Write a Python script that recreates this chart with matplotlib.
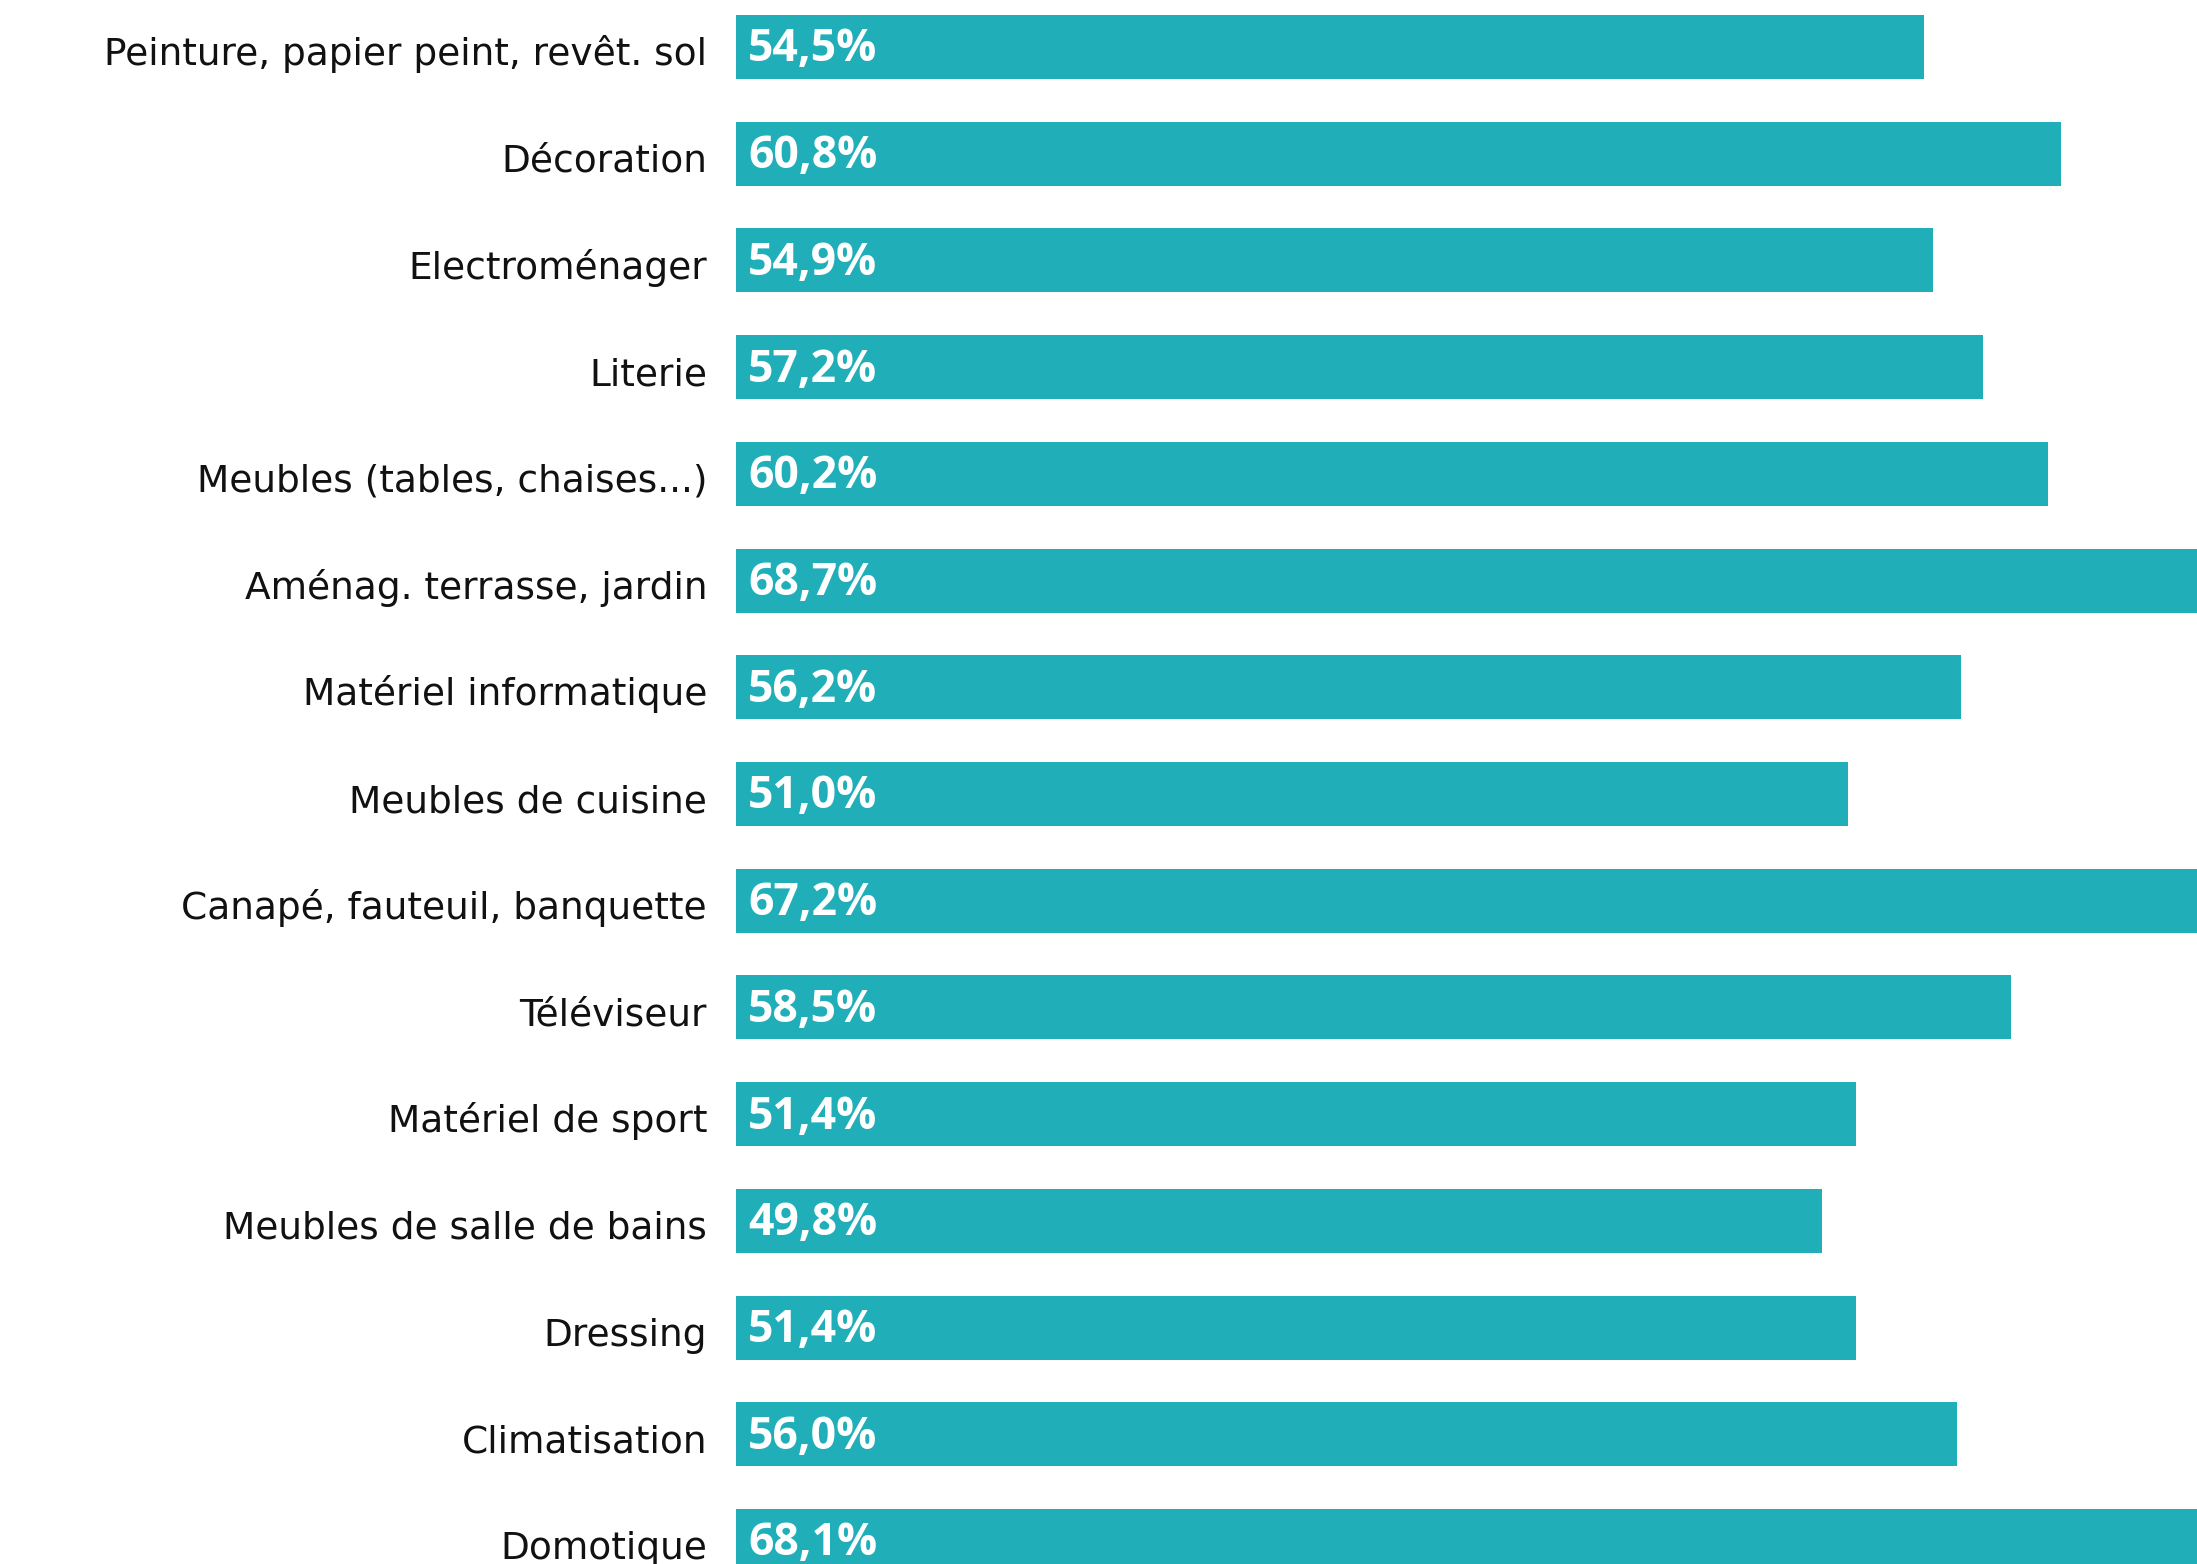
import matplotlib.pyplot as plt

categories = [
    "Peinture, papier peint, revêt. sol",
    "Décoration",
    "Electroménager",
    "Literie",
    "Meubles (tables, chaises...)",
    "Aménag. terrasse, jardin",
    "Matériel informatique",
    "Meubles de cuisine",
    "Canapé, fauteuil, banquette",
    "Téléviseur",
    "Matériel de sport",
    "Meubles de salle de bains",
    "Dressing",
    "Climatisation",
    "Domotique",
]
values = [54.5, 60.8, 54.9, 57.2, 60.2, 68.7, 56.2, 51.0, 67.2, 58.5, 51.4, 49.8, 51.4, 56.0, 68.1]

BAR_COLOR = "#20afb9"
W, H, DPI = 2197, 1564, 100

fig = plt.figure(figsize=(W / DPI, H / DPI), dpi=DPI)
ax = fig.add_axes([736 / W, 0, 1 - 736 / W, 1])

ypos = list(range(len(categories)))
ax.barh(ypos, values, height=0.6, color=BAR_COLOR)

# bars run past the right edge, the axis is cut at ~67 %
ax.set_xlim(0, 67.02)
ax.set_ylim(14.216, -0.44)
ax.axis("off")

for y, cat, v in zip(ypos, categories, values):
    ax.text(-1.33, y + 0.17, cat, ha="right", va="baseline",
            fontsize=27, family="DejaVu Sans", fontweight="normal",
            color="#111111", clip_on=False)
    ax.text(0.55, y + 0.135, f"{v:.1f}%".replace(".", ","), ha="left", va="baseline",
            fontsize=32, family="Open Sans", fontweight="bold", color="white")

fig.savefig("out.png", dpi=DPI)
